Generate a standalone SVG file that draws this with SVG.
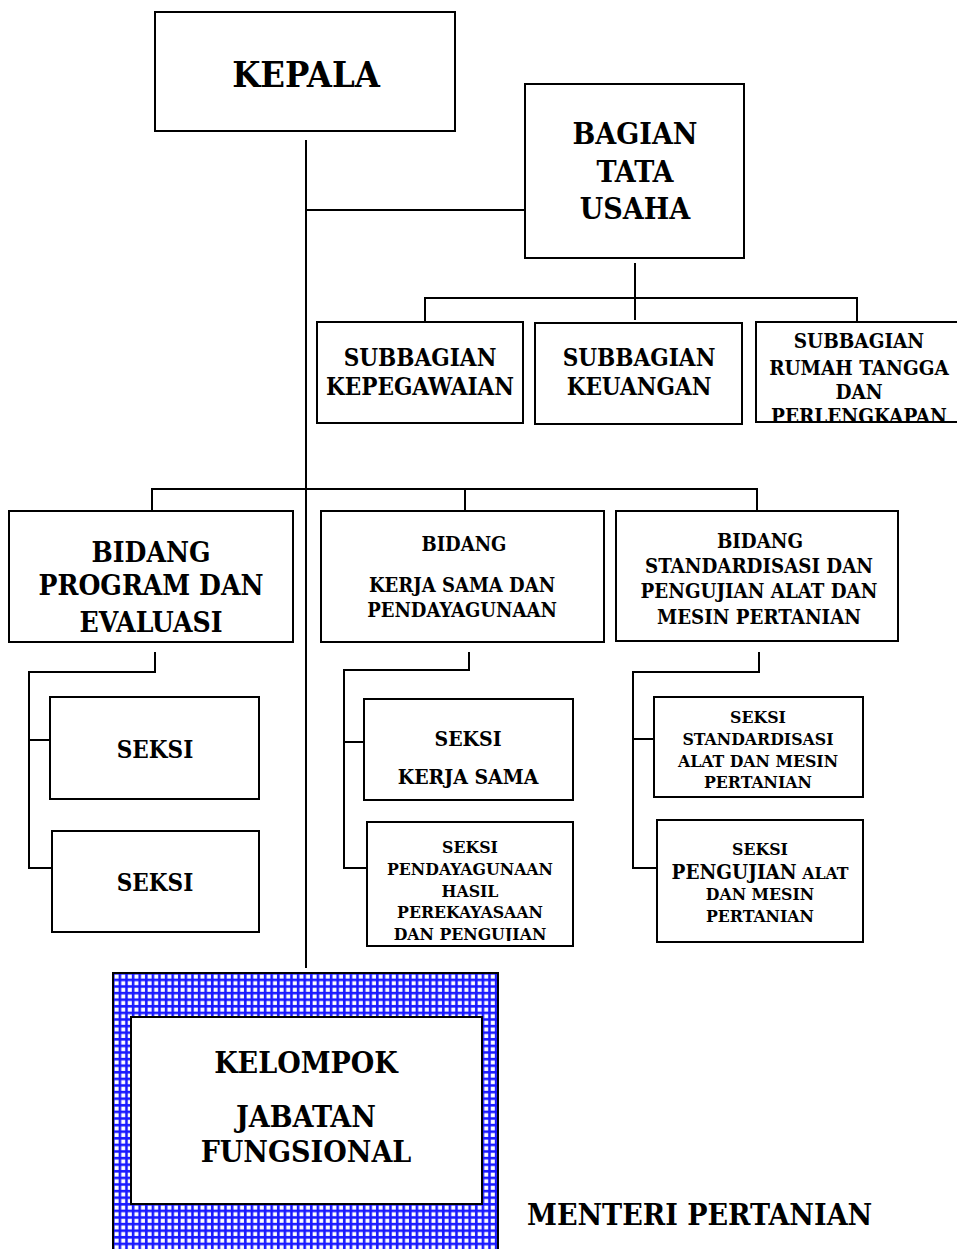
<svg xmlns="http://www.w3.org/2000/svg" width="957" height="1249" viewBox="0 0 957 1249">
<style>
.box{fill:#fff;stroke:#000;stroke-width:2}
.ln{fill:none;stroke:#000;stroke-width:2}
text{font-family:"DejaVu Serif","Liberation Serif",serif;font-stretch:condensed;font-weight:bold;fill:#000;text-anchor:middle}
</style>
<defs>
<pattern id="grid" x="113" y="973" width="6.6" height="6.6" patternUnits="userSpaceOnUse">
<rect width="6.6" height="6.6" fill="#1a1aff"/>
<rect x="1.6" y="1.6" width="4" height="4" fill="#fff"/>
</pattern>
<clipPath id="c1"><rect x="757" y="323" width="200" height="98"/></clipPath>
<clipPath id="c2"><rect x="368" y="823" width="204" height="118"/></clipPath>
</defs>
<g id="connectors">
<path class="ln" d="M306 140V968"/>
<path class="ln" d="M306 210H524"/>
<path class="ln" d="M635 263V320M425 322V298H857V322"/>
<path class="ln" d="M152 511V489H757V511M465 489V511"/>
<path class="ln" d="M155 652V672H29V868H52M29 740H50"/>
<path class="ln" d="M469 652V670H344V868H367M344 742H364"/>
<path class="ln" d="M759 652V672H633V868H657M633 739H654"/>
</g>
<g id="kepala"><rect class="box" x="155" y="12" width="300" height="119"/><text x="306" y="87" font-size="36">KEPALA</text></g>
<g id="bagian-tu"><rect class="box" x="525" y="84" width="219" height="174"/><text x="635" y="144" font-size="30">BAGIAN</text><text x="635" y="182" font-size="30">TATA</text><text x="635" y="219" font-size="30">USAHA</text></g>
<g id="sub-kepegawaian"><rect class="box" x="317" y="322" width="206" height="101"/><text x="420" y="366" font-size="24">SUBBAGIAN</text><text x="420" y="395" font-size="24">KEPEGAWAIAN</text></g>
<g id="sub-keuangan"><rect class="box" x="535" y="323" width="207" height="101"/><text x="639" y="366" font-size="24">SUBBAGIAN</text><text x="639" y="395" font-size="24">KEUANGAN</text></g>
<g id="sub-rt"><rect class="box" x="756" y="322" width="206" height="100"/><g clip-path="url(#c1)"><text x="859" y="348" font-size="20.5">SUBBAGIAN</text><text x="859" y="375" font-size="20.5">RUMAH TANGGA</text><text x="859" y="399" font-size="20.5">DAN</text><text x="859" y="423" font-size="20.5">PERLENGKAPAN</text></g></g>
<g id="bidang-program"><rect class="box" x="9" y="511" width="284" height="131"/><text x="151" y="562" font-size="28">BIDANG</text><text x="151" y="595" font-size="28">PROGRAM DAN</text><text x="151" y="632" font-size="28">EVALUASI</text></g>
<g id="bidang-kerjasama"><rect class="box" x="321" y="511" width="283" height="131"/><text x="464" y="551" font-size="20">BIDANG</text><text x="462" y="592" font-size="20">KERJA SAMA DAN</text><text x="462" y="617" font-size="20">PENDAYAGUNAAN</text></g>
<g id="bidang-standar"><rect class="box" x="616" y="511" width="282" height="130"/><text x="760" y="548" font-size="20.3">BIDANG</text><text x="759" y="573" font-size="20.3">STANDARDISASI DAN</text><text x="759" y="598" font-size="20.3">PENGUJIAN ALAT DAN</text><text x="759" y="624" font-size="20.3">MESIN PERTANIAN</text></g>
<g id="seksi-1"><rect class="box" x="50" y="697" width="209" height="102"/><text x="155" y="758" font-size="24">SEKSI</text></g>
<g id="seksi-2"><rect class="box" x="52" y="831" width="207" height="101"/><text x="155" y="891" font-size="24">SEKSI</text></g>
<g id="seksi-kerjasama"><rect class="box" x="364" y="699" width="209" height="101"/><text x="468" y="746" font-size="21">SEKSI</text><text x="468" y="784" font-size="21">KERJA SAMA</text></g>
<g id="seksi-pendayagunaan"><rect class="box" x="367" y="822" width="206" height="124"/><g clip-path="url(#c2)"><text x="470" y="853" font-size="17.5">SEKSI</text><text x="470" y="875" font-size="17.5">PENDAYAGUNAAN</text><text x="470" y="897" font-size="17.5">HASIL</text><text x="470" y="918" font-size="17.5">PEREKAYASAAN</text><text x="470" y="940" font-size="17.5">DAN PENGUJIAN</text></g></g>
<g id="seksi-standar"><rect class="box" x="654" y="697" width="209" height="100"/><text x="758" y="723" font-size="17.5">SEKSI</text><text x="758" y="745" font-size="17.5">STANDARDISASI</text><text x="758" y="767" font-size="17.5">ALAT DAN MESIN</text><text x="758" y="788" font-size="17.5">PERTANIAN</text></g>
<g id="seksi-pengujian"><rect class="box" x="657" y="820" width="206" height="122"/><text x="760" y="855" font-size="17.5">SEKSI</text><text x="760" y="879" font-size="17.5"><tspan font-size="20.5">PENGUJIAN</tspan> ALAT</text><text x="760" y="900" font-size="17.5">DAN MESIN</text><text x="760" y="922" font-size="17.5">PERTANIAN</text></g>
<g id="kelompok-jf"><rect x="113" y="973" width="385" height="290" fill="url(#grid)" stroke="#000" stroke-width="2"/><rect class="box" x="131" y="1017" width="351" height="187"/><text x="306" y="1073" font-size="30">KELOMPOK</text><text x="306" y="1127" font-size="30">JABATAN</text><text x="306" y="1162" font-size="30">FUNGSIONAL</text></g>
<g id="menteri"><text x="527" y="1225" font-size="30" style="text-anchor:start">MENTERI PERTANIAN</text></g>
</svg>
